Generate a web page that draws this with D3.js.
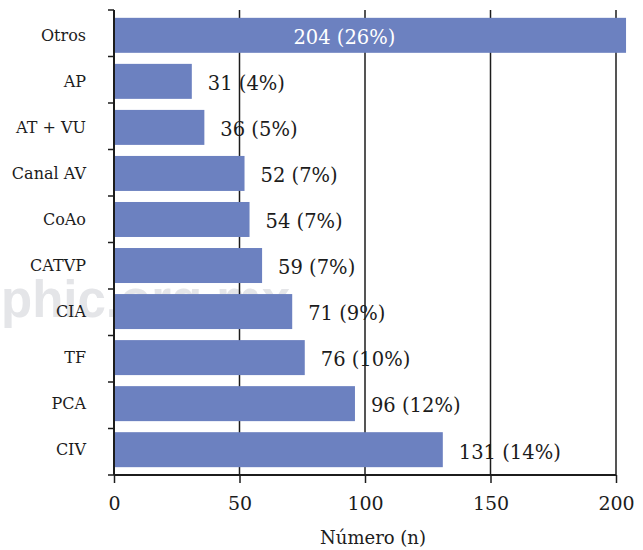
<!DOCTYPE html>
<html>
<head>
<meta charset="utf-8">
<script src="https://cdn.jsdelivr.net/npm/d3@7"></script>
<style>
  html, body { margin: 0; padding: 0; background: #ffffff; }
  svg { display: block; }
</style>
</head>
<body>
<div id="chart"></div>
<script>
// Cardiopatías congénitas: número de casos por diagnóstico
const categories = ["Otros", "AP", "AT + VU", "Canal AV", "CoAo", "CATVP", "CIA", "TF", "PCA", "CIV"];
const counts = [204, 31, 36, 52, 54, 59, 71, 76, 96, 131];
const percents = [26, 4, 5, 7, 7, 7, 9, 10, 12, 14];
const xTicks = [0, 50, 100, 150, 200];
const xTitle = "Número (n)";
const watermark = "phic.org.mx";

const W = 643, H = 550;
const plotLeft = 114, plotRight = 616, plotTop = 10, plotBottom = 475;
const serif = "'DejaVu Serif', serif";
const ink = "#1c1c1c";
const barColor = "#6c81c0";

const svg = d3.select("#chart").append("svg")
  .attr("width", W).attr("height", H);

// faint site watermark behind the plot
svg.append("text")
  .attr("x", 1).attr("y", 317)
  .attr("font-family", "'Liberation Sans', Arial, sans-serif")
  .attr("font-weight", "bold")
  .attr("font-size", 51)
  .attr("fill", "#e4e5e8")
  .text(watermark);

const x = d3.scaleLinear().domain([0, 200]).range([plotLeft, plotRight]);
const y = d3.scaleBand().domain(categories).range([plotTop, plotBottom])
  .paddingInner(0.24).paddingOuter(0.17);

const rows = categories.map((c, i) => ({ cat: c, n: counts[i], pct: percents[i] }));

// vertical gridlines
svg.append("g").selectAll("line")
  .data(xTicks.filter(t => t > 0))
  .join("line")
  .attr("x1", d => x(d)).attr("x2", d => x(d))
  .attr("y1", plotTop).attr("y2", plotBottom)
  .attr("stroke", ink).attr("stroke-width", 1.5);

// bars
svg.append("g").selectAll("rect")
  .data(rows)
  .join("rect")
  .attr("x", x(0))
  .attr("y", d => y(d.cat))
  .attr("width", d => x(d.n) - x(0))
  .attr("height", y.bandwidth())
  .attr("fill", barColor);

// x axis
const xAxis = svg.append("g")
  .attr("transform", `translate(0,${plotBottom})`)
  .call(d3.axisBottom(x).tickValues(xTicks).tickSize(8).tickPadding(14).tickSizeOuter(0));
xAxis.select(".domain").attr("stroke", ink).attr("stroke-width", 2).attr("d", `M${plotLeft},0H${plotRight}`);
xAxis.selectAll(".tick line").attr("stroke", ink).attr("stroke-width", 1.5);
xAxis.selectAll(".tick text")
  .attr("font-family", serif).attr("font-size", 19).attr("fill", ink);

// y axis: line with ticks on category boundaries
svg.append("line")
  .attr("x1", plotLeft).attr("x2", plotLeft).attr("y1", plotTop).attr("y2", plotBottom)
  .attr("stroke", ink).attr("stroke-width", 2);
const step = (plotBottom - plotTop) / categories.length;
svg.append("g").selectAll("line")
  .data(d3.range(categories.length + 1))
  .join("line")
  .attr("x1", plotLeft - 6).attr("x2", plotLeft)
  .attr("y1", i => plotTop + i * step).attr("y2", i => plotTop + i * step)
  .attr("stroke", ink).attr("stroke-width", 1.5);

// category labels
svg.append("g").selectAll("text")
  .data(rows)
  .join("text")
  .attr("x", 86)
  .attr("y", d => y(d.cat) + y.bandwidth() / 2)
  .attr("dy", "0.35em")
  .attr("text-anchor", "end")
  .attr("font-family", serif).attr("font-size", 16).attr("fill", ink)
  .text(d => d.cat);

// value labels: inside the longest bar, to the right of the others
const inside = d => d.n > 180;
svg.append("g").selectAll("text")
  .data(rows)
  .join("text")
  .attr("x", d => inside(d) ? x(d.n * 0.45) : x(d.n) + 16)
  .attr("y", d => y(d.cat) + y.bandwidth() / 2 + 2)
  .attr("dy", "0.35em")
  .attr("text-anchor", d => inside(d) ? "middle" : "start")
  .attr("font-family", serif).attr("font-size", 19.5)
  .attr("fill", d => inside(d) ? "#ffffff" : ink)
  .text(d => `${d.n} (${d.pct}%)`);

// x axis title
svg.append("text")
  .attr("x", 373).attr("y", 538)
  .attr("dy", "0.35em")
  .attr("text-anchor", "middle")
  .attr("font-family", serif).attr("font-size", 18).attr("fill", ink)
  .text(xTitle);
</script>
</body>
</html>
